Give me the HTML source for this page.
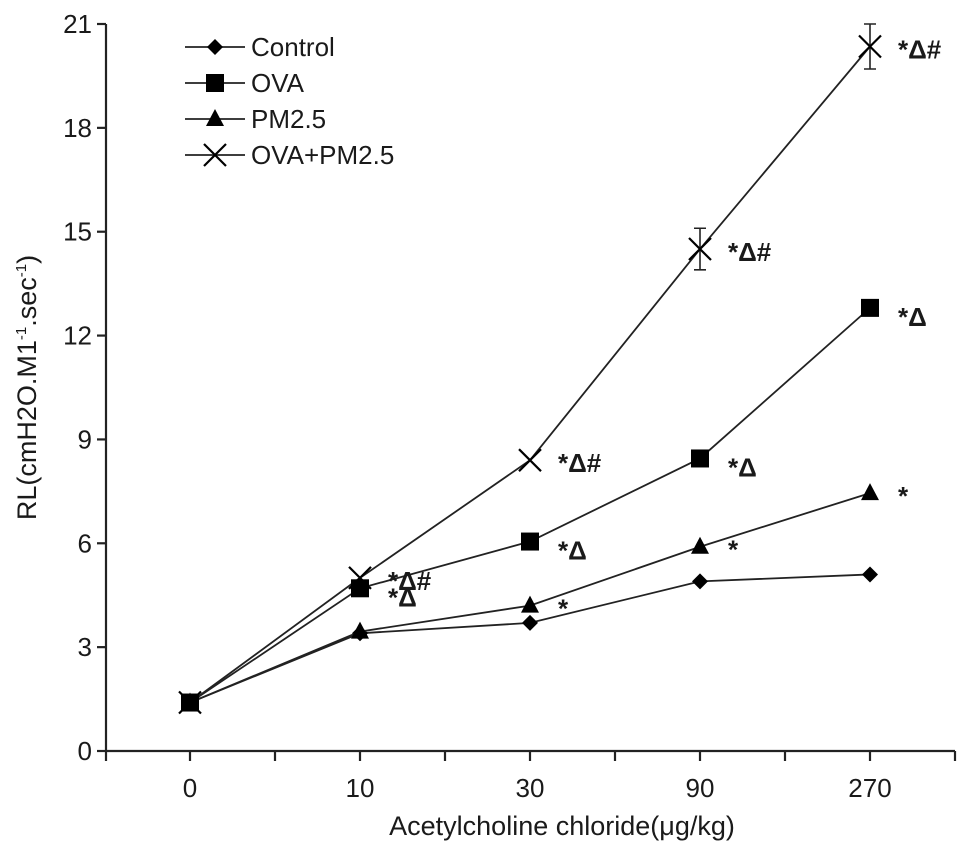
<!DOCTYPE html>
<html><head><meta charset="utf-8"><style>
body{margin:0;background:#fff}
svg text{font-family:"Liberation Sans",sans-serif;fill:#1a1a1a}
</style></head><body>
<svg id="c" width="969" height="853" xmlns="http://www.w3.org/2000/svg"></svg>
<script>
const categories=["0","10","30","90","270"];
const yTicks=[0,3,6,9,12,15,18,21];
const control=[1.4,3.4,3.7,4.9,5.1];
const ova=[1.4,4.7,6.05,8.45,12.8];
const pm25=[1.4,3.45,4.2,5.9,7.45];
const ovaPm=[1.4,5.0,8.4,14.5,20.35];
const ovaPmErr=[0,0,0,0.6,0.65];
const labelsOva=["","*Δ","*Δ","*Δ","*Δ"];
const labelsPm=["","","*","*","*"];
const labelsOvaPm=["","*Δ#","*Δ#","*Δ#","*Δ#"];
const NS="http://www.w3.org/2000/svg";
const svg=document.getElementById('c');
const x0=106,yb=751,yt=24;
function xs(i){return 190+i*170;}
function ys(v){return yb-(v/21)*(yb-yt);}
function mk(t,a,p){const e=document.createElementNS(NS,t);for(const k in a)e.setAttribute(k,a[k]);(p||svg).appendChild(e);return e;}
const ax=mk('g',{});


mk('line',{x1:x0,y1:yt,x2:x0,y2:yb+10,stroke:'#222','stroke-width':2.2},ax);
mk('line',{x1:x0,y1:yb,x2:955,y2:yb,stroke:'#222','stroke-width':2.2},ax);
yTicks.forEach(v=>{mk('line',{x1:x0-9,y1:ys(v),x2:x0,y2:ys(v),stroke:'#222','stroke-width':2.2},ax);
 const t=mk('text',{x:x0-14,y:ys(v)+9,'text-anchor':'end','font-size':26},ax);t.textContent=v;
 
 });
for(let i=0;i<categories.length;i++){mk('line',{x1:xs(i),y1:yb,x2:xs(i),y2:yb+10,stroke:'#222','stroke-width':2.2},ax);
 mk('line',{x1:xs(i)+85,y1:yb,x2:xs(i)+85,y2:yb+10,stroke:'#222','stroke-width':2.2},ax);
 const t=mk('text',{x:xs(i),y:yb+46,'text-anchor':'middle','font-size':26},ax);t.textContent=categories[i];
 
 }
const xt=mk('text',{x:562,y:yb+84,'text-anchor':'middle','font-size':27});xt.textContent="Acetylcholine chloride(μg/kg)";


const yl=mk('text',{transform:`translate(36,${(yt+yb)/2}) rotate(-90)`,'text-anchor':'middle','font-size':27});
yl.innerHTML='RL(cmH2O.M1<tspan font-size="15" dy="-10">-1</tspan><tspan dy="10">.sec</tspan><tspan font-size="15" dy="-10">-1</tspan><tspan dy="10">)</tspan>';


function marker(type,x,y,g){
 if(type==='d')mk('polygon',{points:`${x},${y-8} ${x+8},${y} ${x},${y+8} ${x-8},${y}`,fill:'#000'},g);
 else if(type==='s')mk('rect',{x:x-9,y:y-9,width:18,height:18,fill:'#000'},g);
 else if(type==='t')mk('polygon',{points:`${x},${y-10} ${x+9},${y+7} ${x-9},${y+7}`,fill:'#000'},g);
 else{mk('path',{d:`M${x-11} ${y-11}L${x+11} ${y+11}M${x+11} ${y-11}L${x-11} ${y+11}`,stroke:'#000','stroke-width':2.2},g);}
}
const series=[[ovaPm,'x','series-ova-pm25'],[control,'d','series-control'],[pm25,'t','series-pm25'],[ova,'s','series-ova']];
series.forEach(([d,m,n])=>{const g=mk('g',{});
 
 
 mk('polyline',{points:d.map((v,i)=>xs(i)+','+ys(v)).join(' '),fill:'none',stroke:'#222','stroke-width':1.8},g);
 if(m==='x')d.forEach((v,i)=>{if(ovaPmErr[i]>0){const x=xs(i);mk('path',{d:`M${x} ${ys(v-ovaPmErr[i])}V${ys(v+ovaPmErr[i])}M${x-6} ${ys(v-ovaPmErr[i])}H${x+6}M${x-6} ${ys(v+ovaPmErr[i])}H${x+6}`,stroke:'#222','stroke-width':1.6,fill:'none'},g);}});
 d.forEach((v,i)=>marker(m,xs(i),ys(v),g));});
function lab(arr,d,dy){arr.forEach((s,i)=>{if(!s)return;const t=mk('text',{x:xs(i)+28,y:ys(d[i])+dy,'font-size':26,'font-family':'Liberation Serif','font-weight':'bold'});t.textContent=s;
 
 });}
lab(labelsOva,ova,18);lab(labelsPm,pm25,12);lab(labelsOvaPm,ovaPm,12);
const lg=mk('g',{});


[['Control','d'],['OVA','s'],['PM2.5','t'],['OVA+PM2.5','x']].forEach(([n,m],k)=>{const y=47+k*36;
 mk('line',{x1:185,y1:y,x2:245,y2:y,stroke:'#222','stroke-width':1.8},lg);marker(m,215,y,lg);
 const t=mk('text',{x:251,y:y+9,'font-size':26},lg);t.textContent=n;
 
 });
</script>
</body></html>
